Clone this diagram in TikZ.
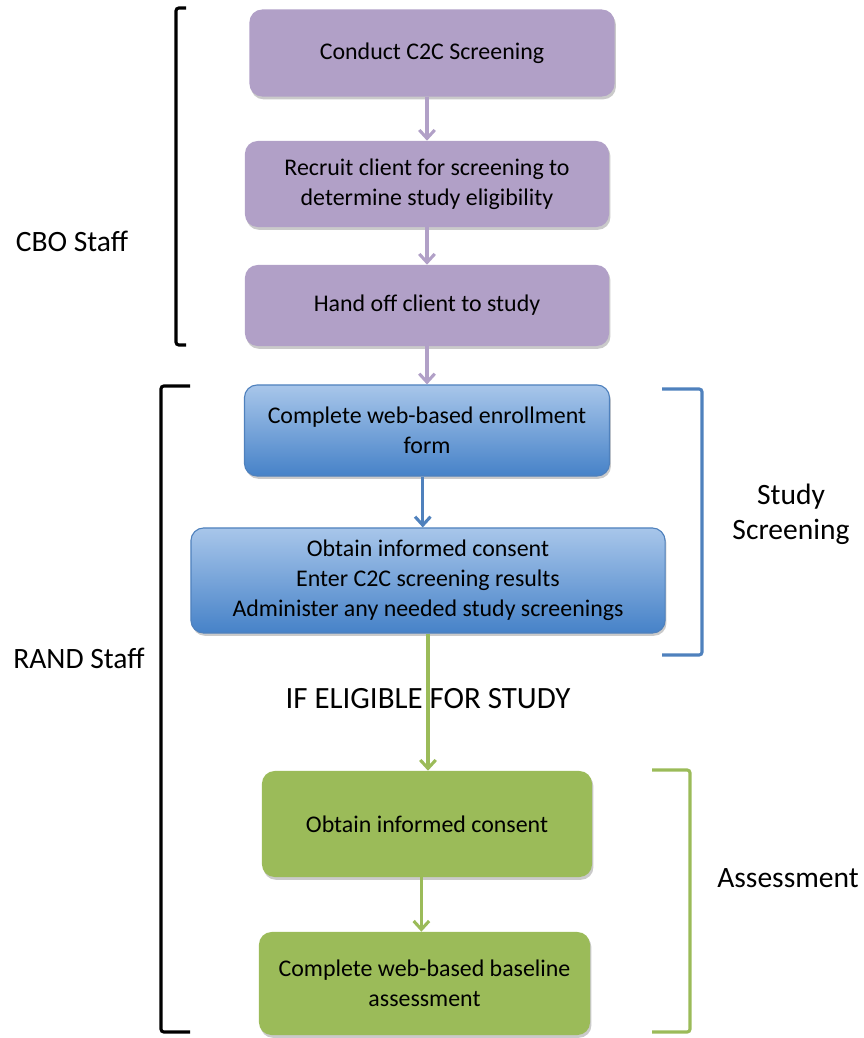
\documentclass[tikz,border=0pt]{standalone}
\usepackage{fontspec}
\setmainfont{Carlito}
\usepackage{xcolor}
\usetikzlibrary{positioning, arrows.meta, shadows}

\definecolor{cboPurple}{RGB}{177,160,199}
\definecolor{randBlue}{RGB}{79,129,189}
\definecolor{blueTop}{RGB}{168,198,234}
\definecolor{blueBot}{RGB}{70,130,200}
\definecolor{randGreen}{RGB}{155,187,89}

\tikzset{
    stagebox/.style={rounded corners=9pt, align=center, inner sep=0pt,
        font=\fontsize{17}{21.3}\selectfont,
        drop shadow={shadow xshift=1pt, shadow yshift=-2pt, opacity=0.35, fill=black!60}},
    cbobox/.style={stagebox, fill=cboPurple},
    screenbox/.style={stagebox, top color=blueTop, bottom color=blueBot, draw=randBlue, line width=0.8pt},
    assessbox/.style={stagebox, fill=randGreen},
    flow/.style={line width=2.3pt, -{Straight Barb[length=6pt, width=11pt, line width=2.2pt]}},
    sidelabel/.style={font=\fontsize{21}{25}\selectfont, align=center},
    bracket/.style={line width=2.2pt, rounded corners=2pt},
}

\begin{document}
\begin{tikzpicture}[x=0.025cm, y=-0.025cm]
    \useasboundingbox (0,0) rectangle (863,1038);
    % CBO part
    \node [cbobox, minimum width=9.125cm, minimum height=2.175cm] (conduct) at (432,53) {Conduct C2C Screening};
    \node [cbobox, minimum width=9.1cm, minimum height=2.15cm] (recruit) at (427,184) {Recruit client for screening to\\determine study eligibility};
    \node [cbobox, minimum width=9.1cm, minimum height=2.025cm] (handoff) at (427,305.5) {Hand off client to study};
    % study screening part
    \node [screenbox, minimum width=9.125cm, minimum height=2.275cm] (enroll) at (427,430.5) {Complete web-based enrollment\\form};
    \node [screenbox, minimum width=11.85cm, minimum height=2.625cm] (screen) at (428,580.5) {Obtain informed consent\\Enter C2C screening results\\Administer any needed study screenings};
    % assessment part
    \node [assessbox, minimum width=8.25cm, minimum height=2.65cm] (consent) at (427,824) {Obtain informed consent};
    \node [assessbox, minimum width=8.275cm, minimum height=2.575cm] (baseline) at (424.5,983.5) {Complete web-based baseline\\assessment};
    % arrows
    \draw [flow, cboPurple] (recruit.north |- conduct.south) -- (recruit.north);
    \draw [flow, cboPurple] (recruit.south) -- (handoff.north);
    \draw [flow, cboPurple] (handoff.south) -- (handoff.south |- enroll.north);
    \draw [flow, randBlue] ([xshift=-3pt]enroll.south) -- ([xshift=-3pt]enroll.south |- screen.north);
    \draw [flow, randGreen] (screen.south) -- (screen.south |- consent.north);
    \draw [flow, randGreen] ([xshift=-4pt]consent.south) -- ([xshift=-4pt]consent.south |- baseline.north);
    \node [font=\fontsize{22}{26}\selectfont] (eligible) at (428,699) {IF ELIGIBLE FOR STUDY}; % label across green arrow
    % brackets and side labels
    \draw [bracket, black] (186,8) -- (176,8) -- (176,345) -- (186,345); % CBO
    \draw [bracket, black] (190,386) -- (161,386) -- (161,1032) -- (190,1032); % RAND
    \draw [bracket, randBlue] (662,389) -- (702,389) -- (702,655) -- (662,655); % study screening
    \draw [bracket, randGreen] (652,770) -- (690,770) -- (690,1032) -- (652,1032); % assessment
    \node [sidelabel] (cbo) at (72,241) {CBO Staff};
    \node [sidelabel] (rand) at (79,658) {RAND Staff};
    \node [sidelabel] (studyscr) at (791,514) {Study\\Screening};
    \node [sidelabel] (assess) at (788,878) {Assessment};
\end{tikzpicture}
\end{document}
